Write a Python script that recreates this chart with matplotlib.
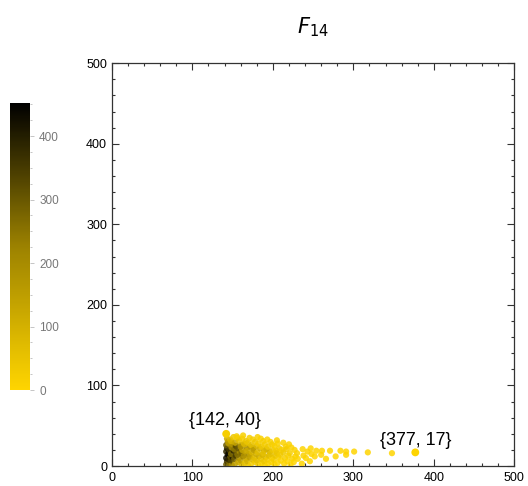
"""Scatter of F_14 pairs, coloured by count, with the two extreme points labelled."""
import matplotlib
matplotlib.use("Agg")
import matplotlib.pyplot as plt
from matplotlib.colors import LinearSegmentedColormap, Normalize
from matplotlib.ticker import MultipleLocator
import matplotlib.cm as cm

plt.rcParams["font.family"] = ["Liberation Sans", "DejaVu Sans"]

# data (x, y, colour value)
xs = [
    142, 143, 142, 144, 142, 143, 142, 144, 143, 142,
    146, 145, 147, 145, 146, 148, 145, 147,
    149, 148, 150, 148, 151, 149, 150, 148, 151,
    153, 152, 154, 155, 152, 154, 153, 156,
    157, 158, 156, 159, 157, 160, 158, 155,
    161, 160, 163, 161, 162, 160, 164, 162,
    165, 167, 164, 166, 168, 165, 167, 163,
    169, 168, 171, 170, 168, 172, 169, 171,
    173, 175, 172, 174, 176, 173, 175,
    178, 177, 179, 176, 180, 178, 181,
    182, 180, 183, 181, 184, 182, 185,
    186, 185, 187, 189, 186, 188,
    190, 189, 191, 188, 192, 190, 193,
    194, 193, 195, 196, 194, 197,
    198, 199, 197, 200, 199,
    202, 201, 203, 204, 202, 205,
    206, 207, 205, 208, 206,
    210, 209, 211, 213,
    214, 215, 213, 216,
    218, 219, 217, 220,
    222, 224, 221, 223,
    226, 228, 227,
    231, 230,
    236, 238, 237,
    241, 243,
    246, 248, 247,
    252, 254,
    260, 261,
    266, 271, 278, 284,
    291, 291,
    301, 318, 348, 377,
]
ys = [
    2, 6, 10, 14, 18, 22, 26, 30, 34, 40,
    4, 8, 12, 16, 20, 24, 28, 33,
    1, 7, 11, 15, 19, 23, 27, 31, 36,
    3, 9, 13, 17, 21, 25, 29, 35,
    5, 10, 14, 18, 22, 26, 32, 37,
    2, 7, 12, 16, 20, 24, 28, 34,
    4, 9, 13, 18, 23, 27, 31, 38,
    1, 6, 11, 15, 19, 24, 29, 35,
    3, 8, 13, 17, 22, 26, 33,
    5, 10, 15, 20, 25, 30, 36,
    2, 7, 12, 17, 22, 28, 34,
    4, 9, 14, 19, 24, 31,
    1, 6, 11, 16, 21, 27, 33,
    3, 8, 13, 18, 24, 30,
    5, 10, 15, 20, 27,
    2, 8, 13, 19, 25, 32,
    4, 11, 16, 22, 28,
    7, 14, 20, 29,
    3, 10, 17, 24,
    6, 13, 21, 27,
    2, 9, 16, 23,
    5, 12, 20,
    9, 16,
    3, 13, 21,
    10, 18,
    6, 15, 22,
    12, 19,
    14, 19,
    9, 19, 12, 19,
    14, 18,
    18, 17, 16, 17,
]
vals = [
    300, 350, 420, 450, 380, 400, 300, 200, 120, 20,
    250, 380, 300, 440, 350, 280, 150, 60,
    200, 330, 410, 260, 390, 220, 180, 90, 40,
    150, 280, 350, 300, 250, 330, 120, 30,
    120, 200, 260, 180, 300, 150, 60, 20,
    80, 150, 220, 280, 130, 190, 70, 25,
    60, 120, 180, 140, 220, 90, 40, 15,
    40, 100, 150, 200, 110, 160, 50, 20,
    30, 80, 130, 90, 170, 60, 20,
    25, 70, 110, 150, 80, 40, 15,
    20, 60, 120, 70, 100, 30, 10,
    15, 50, 90, 110, 40, 20,
    10, 40, 80, 60, 90, 25, 10,
    10, 30, 70, 100, 35, 15,
    8, 25, 60, 40, 20,
    5, 20, 50, 30, 15, 10,
    5, 20, 45, 25, 10,
    5, 30, 15, 10,
    5, 20, 35, 10,
    5, 15, 25, 10,
    3, 10, 20, 8,
    3, 12, 8,
    5, 10,
    2, 8, 5,
    4, 6,
    2, 5, 3,
    3, 4,
    2, 3,
    2, 2, 2, 2,
    2, 2,
    2, 2, 2, 2,
]
labelled = [(142, 40), (377, 17)]
labelled_vals = [20, 2]
vmax = 452

cmap = LinearSegmentedColormap.from_list("gold_black", ["#ffd500", "#9c8200", "#000000"])
norm = Normalize(vmin=0, vmax=vmax)

fig = plt.figure(figsize=(5.28, 4.86), dpi=100)
ax = fig.add_axes([0.212, 0.041, 0.762, 0.829])

ax.scatter(xs, ys, c=vals, cmap=cmap, norm=norm, s=20, alpha=0.85,
           edgecolors="none", zorder=3)
# the two labelled extremes are drawn a bit bigger
ax.scatter([p[0] for p in labelled], [p[1] for p in labelled],
           c=labelled_vals, cmap=cmap, norm=norm, s=32, edgecolors="none", zorder=4)

ax.text(140, 56, "{142, 40}", ha="center", va="center", fontsize=13)
ax.text(377, 32, "{377, 17}", ha="center", va="center", fontsize=13)

ax.set_xlim(0, 500)
ax.set_ylim(0, 500)
for axis in (ax.xaxis, ax.yaxis):
    axis.set_major_locator(MultipleLocator(100))
    axis.set_minor_locator(MultipleLocator(20))
ax.tick_params(which="both", direction="in", top=True, right=True, labelsize=9,
               width=0.8, color="#333333")
ax.tick_params(which="major", length=5)
ax.tick_params(which="minor", length=2.5)
ax.tick_params(axis="x", pad=4)
for sp in ax.spines.values():
    sp.set_color("#333333")
    sp.set_linewidth(0.9)

fig.text(0.593, 0.944, r"$F_{14}$", ha="center", va="center", fontsize=15)

cax = fig.add_axes([0.019, 0.1975, 0.038, 0.5905])
sm = cm.ScalarMappable(norm=norm, cmap=cmap)
cb = fig.colorbar(sm, cax=cax)
cb.outline.set_visible(False)
cb.set_ticks([0, 100, 200, 300, 400])
cb.ax.yaxis.set_minor_locator(MultipleLocator(25))
cb.ax.tick_params(which="both", colors="#bbbbbb", labelcolor="#777777", labelsize=8.5,
                  width=0.6)
cb.ax.tick_params(which="major", length=3)
cb.ax.tick_params(which="minor", length=1.5)

fig.savefig("out.png", dpi=100)
